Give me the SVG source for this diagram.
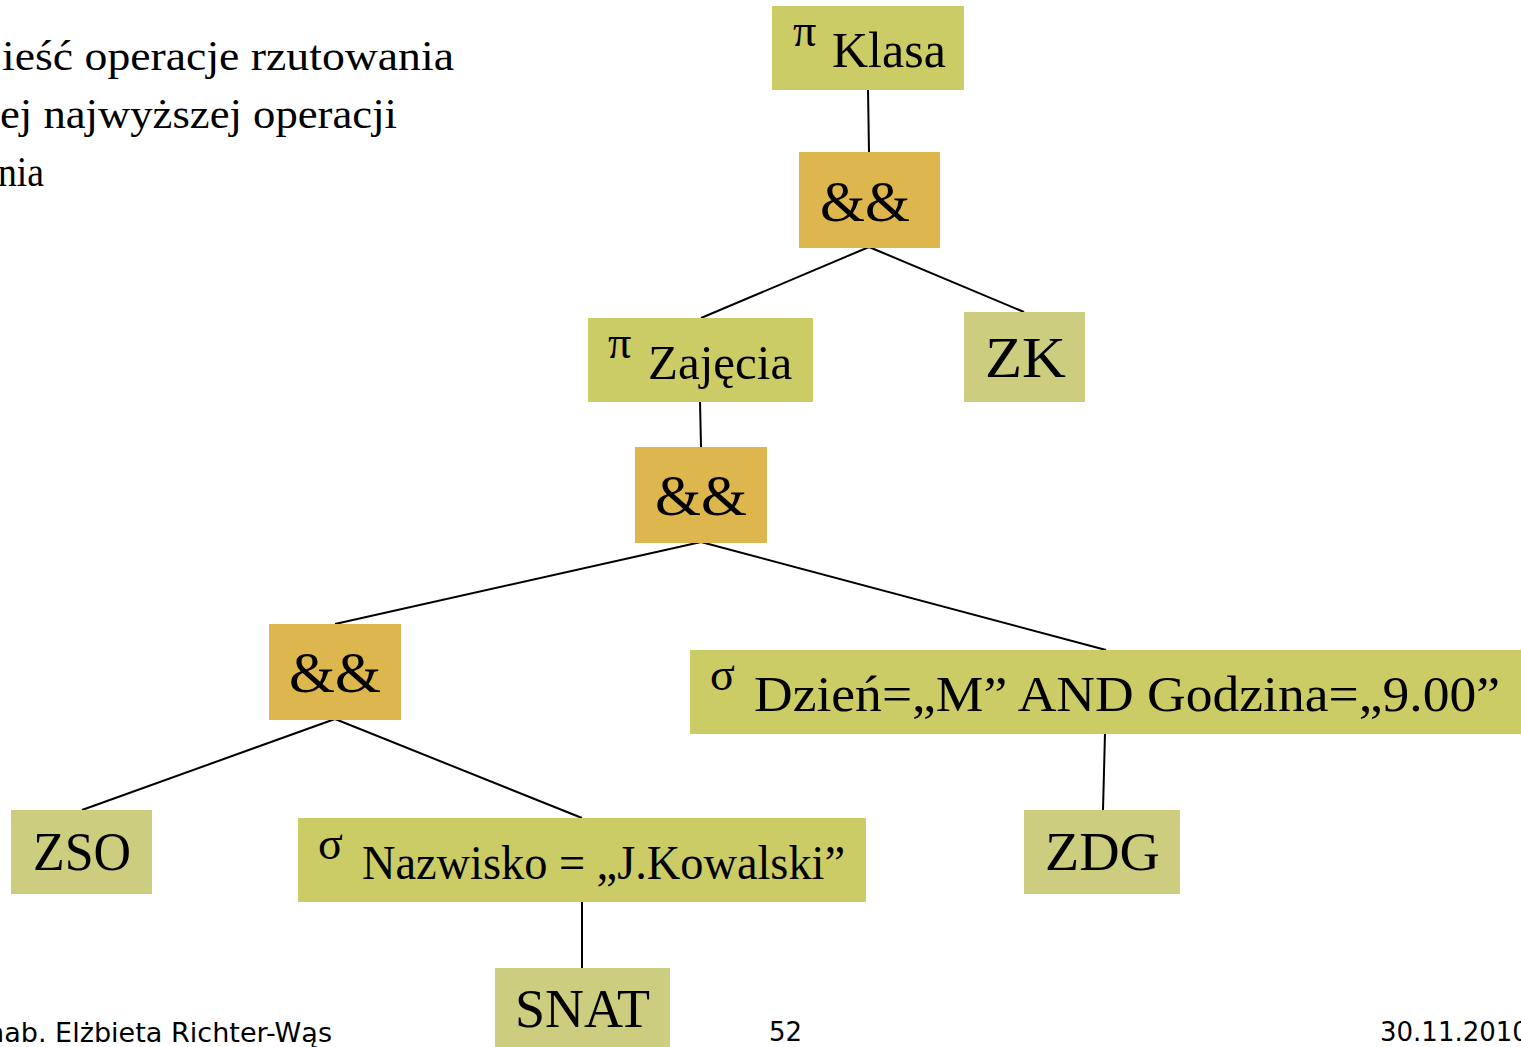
<svg xmlns="http://www.w3.org/2000/svg" width="1521" height="1047" viewBox="0 0 1521 1047">
<style>
.g{fill:#CCCC66}
.l{fill:#CDCD80}
.o{fill:#DDB64E}
.t{font-family:"Liberation Serif","Times New Roman",serif;fill:#000}
.s{font-family:"DejaVu Sans",Verdana,sans-serif;fill:#000;font-size:26px}
.c{stroke:#000;stroke-width:2;fill:none}
</style>
<rect width="1521" height="1047" fill="#fff"/>
<g id="intro">
<text class="t" font-size="42" x="2" y="70" textLength="452" lengthAdjust="spacingAndGlyphs">ieść operacje rzutowania</text>
<text class="t" font-size="42" x="0" y="128" textLength="397" lengthAdjust="spacingAndGlyphs">ej najwyższej operacji</text>
<text class="t" font-size="42" x="-2" y="186" textLength="46" lengthAdjust="spacingAndGlyphs">nia</text>
</g>
<g id="connectors">
<line class="c" x1="868" y1="89" x2="869" y2="152"/>
<line class="c" x1="869" y1="247" x2="701" y2="318"/>
<line class="c" x1="869" y1="247" x2="1024" y2="312"/>
<line class="c" x1="700" y1="401" x2="701" y2="447"/>
<line class="c" x1="701" y1="542" x2="335" y2="624"/>
<line class="c" x1="701" y1="542" x2="1106" y2="650"/>
<line class="c" x1="335" y1="719" x2="82" y2="810"/>
<line class="c" x1="335" y1="719" x2="582" y2="818"/>
<line class="c" x1="1105" y1="733" x2="1103" y2="810"/>
<line class="c" x1="582" y1="901" x2="582" y2="968"/>
</g>
<g id="n-klasa">
<rect class="g" x="772" y="6" width="192" height="84"/>
<text class="t" font-size="46" x="793" y="46">π</text>
<text class="t" font-size="50" x="832" y="67">Klasa</text>
</g>
<g id="n-and1">
<rect class="o" x="799" y="152" width="141" height="96"/>
<text class="t" font-size="56" x="820" y="221" textLength="90" lengthAdjust="spacingAndGlyphs">&amp;&amp;</text>
</g>
<g id="n-zajecia">
<rect class="g" x="588" y="318" width="225" height="84"/>
<text class="t" font-size="46" x="608" y="358">π</text>
<text class="t" font-size="49" x="648" y="379">Zajęcia</text>
</g>
<g id="n-zk">
<rect class="l" x="964" y="312" width="121" height="90"/>
<text class="t" font-size="58" x="985" y="377" textLength="81" lengthAdjust="spacingAndGlyphs">ZK</text>
</g>
<g id="n-and2">
<rect class="o" x="635" y="447" width="132" height="96"/>
<text class="t" font-size="56" x="655" y="515" textLength="92" lengthAdjust="spacingAndGlyphs">&amp;&amp;</text>
</g>
<g id="n-and3">
<rect class="o" x="269" y="624" width="132" height="96"/>
<text class="t" font-size="56" x="289" y="692" textLength="92" lengthAdjust="spacingAndGlyphs">&amp;&amp;</text>
</g>
<g id="n-dzien">
<rect class="g" x="690" y="650" width="831" height="84"/>
<text class="t" font-size="46" x="710" y="690">σ</text>
<text class="t" font-size="50" x="754" y="711" textLength="746" lengthAdjust="spacingAndGlyphs">Dzień=„M” AND Godzina=„9.00”</text>
</g>
<g id="n-zso">
<rect class="l" x="11" y="810" width="141" height="84"/>
<text class="t" font-size="54" x="33" y="870" textLength="98" lengthAdjust="spacingAndGlyphs">ZSO</text>
</g>
<g id="n-nazwisko">
<rect class="g" x="298" y="818" width="568" height="84"/>
<text class="t" font-size="46" x="318" y="859">σ</text>
<text class="t" font-size="48" x="362" y="879" textLength="483" lengthAdjust="spacingAndGlyphs">Nazwisko = „J.Kowalski”</text>
</g>
<g id="n-zdg">
<rect class="l" x="1024" y="810" width="156" height="84"/>
<text class="t" font-size="54" x="1045" y="870" textLength="115" lengthAdjust="spacingAndGlyphs">ZDG</text>
</g>
<g id="n-snat">
<rect class="l" x="495" y="968" width="175" height="79"/>
<text class="t" font-size="54" x="515" y="1027" textLength="135" lengthAdjust="spacingAndGlyphs">SNAT</text>
</g>
<g id="footer">
<text class="s" x="-13" y="1042" textLength="345" lengthAdjust="spacingAndGlyphs">hab. Elżbieta Richter-Wąs</text>
<text class="s" x="769" y="1041">52</text>
<text class="s" x="1380" y="1041">30.11.2010</text>
</g>
</svg>
